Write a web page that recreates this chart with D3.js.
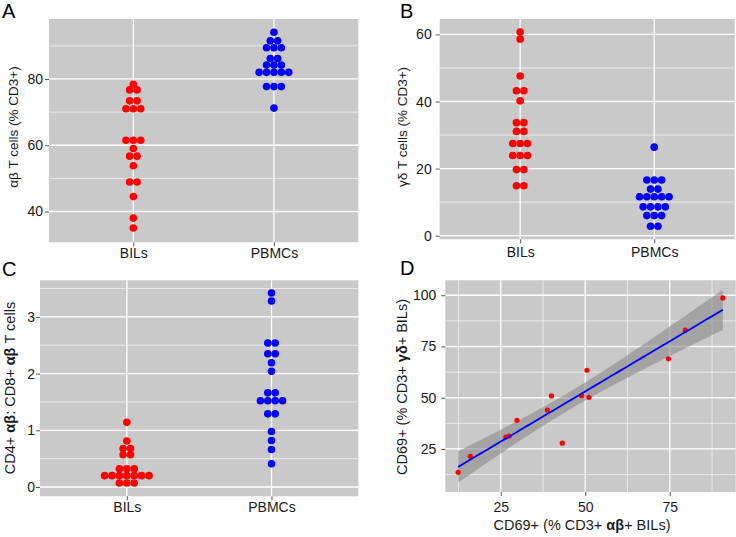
<!DOCTYPE html>
<html><head><meta charset="utf-8">
<script src="https://cdn.jsdelivr.net/npm/d3@7"></script>
<style>body{margin:0;background:#fff} text{font-family:"Liberation Sans",Arial,sans-serif}</style>
</head><body><svg id="c" width="736" height="537"></svg>
<script>
// ---------- data ----------
const categories = ["BILs", "PBMCs"];
// Panel A: αβ T cells (% CD3+), one entry per dot
const abBILs  = [78.4, 76.7, 76.7, 73.4, 73.4, 71.0, 71.0, 71.0, 61.5, 61.5, 61.5, 59.0, 56.7, 56.7, 53.8, 48.9, 48.9, 44.5, 38.0, 35.0];
const abPBMCs = [94.1, 91.5, 91.5, 89.4, 89.4, 89.4, 86.2, 86.2, 84.2, 84.2, 84.2, 82.0, 82.0, 82.0, 82.0, 82.0, 77.7, 77.7, 77.7, 71.2];
const aTicks = [40, 60, 80];
// Panel B: γδ T cells (% CD3+)
const gdBILs  = [60.7, 58.6, 47.6, 43.2, 43.2, 40.2, 33.7, 33.7, 31.1, 31.1, 27.5, 27.5, 27.5, 23.9, 23.9, 23.9, 19.7, 19.7, 14.9, 14.9];
const gdPBMCs = [26.4, 16.6, 16.6, 16.6, 13.9, 13.9, 11.6, 11.6, 11.6, 11.6, 11.6, 8.6, 8.6, 8.6, 8.6, 6.0, 6.0, 6.0, 2.8, 2.8];
const bTicks = [0, 20, 40, 60];
// Panel C: CD4+ αβ : CD8+ αβ ratio
const ratioBILs  = [1.14, 0.81, 0.68, 0.68, 0.57, 0.57, 0.32, 0.32, 0.32, 0.20, 0.20, 0.20, 0.20, 0.20, 0.20, 0.20, 0.07, 0.07, 0.07];
const ratioPBMCs = [3.42, 3.28, 2.54, 2.54, 2.35, 2.35, 2.19, 2.04, 1.66, 1.66, 1.52, 1.52, 1.52, 1.52, 1.29, 1.29, 0.98, 0.82, 0.66, 0.41];
const cTicks = [0, 1, 2, 3];
// Panel D: CD69+ scatter
const cd69ab = [12.4, 16.0, 26.5, 27.5, 29.8, 38.8, 40.0, 43.2, 48.9, 50.5, 51.1, 74.6, 79.6, 90.7];
const cd69gd = [13.6, 21.4, 30.8, 31.3, 39.0, 44.0, 50.9, 27.8, 51.0, 63.4, 50.2, 69.0, 83.0, 98.7];
const dTicks = [25, 50, 75, 100];
const dXTicks = [25, 50, 75];

// ---------- helpers ----------
const svg = d3.select("#c");
const PANEL_BG = "#c9c9c9";
const RED = "#ff0000", BLUE = "#0000ff";

function gridBg(g, x0, x1, y0, y1) {
  g.append("rect").attr("x", x0).attr("y", y0).attr("width", x1 - x0).attr("height", y1 - y0).attr("fill", PANEL_BG);
}
function hLine(g, y, x0, x1, w) {
  g.append("line").attr("x1", x0).attr("x2", x1).attr("y1", y).attr("y2", y).attr("stroke", "#fff").attr("stroke-width", w);
}
function vLine(g, x, y0, y1, w) {
  g.append("line").attr("x1", x).attr("x2", x).attr("y1", y0).attr("y2", y1).attr("stroke", "#fff").attr("stroke-width", w);
}
function styleAxis(ax, fs) {
  ax.select(".domain").remove();
  ax.selectAll(".tick line").attr("stroke", "#555").attr("stroke-width", 1);
  ax.selectAll(".tick text").attr("fill", "#1a1a1a").style("font-size", fs + "px").style("font-family", "Liberation Sans, Arial, sans-serif");
}
function yTitle(cx, cy, segs, fs) {
  const t = svg.append("text").attr("transform", `translate(${cx},${cy}) rotate(-90)`)
    .attr("text-anchor", "middle").attr("dy", "0.35em").style("font-size", fs + "px").attr("fill", "#1a1a1a");
  segs.forEach(s => t.append("tspan").text(s[0]).attr("font-weight", s[1] ? "bold" : "normal"));
}
function letter(txt, x, y) {
  svg.append("text").attr("x", x).attr("y", y).text(txt).style("font-size", "20px").attr("fill", "#000");
}

function dotPanel(cfg) {
  const g = svg.append("g");
  const x = d3.scalePoint().domain(categories).range([cfg.x0, cfg.x1]).padding(0.6);
  const y = d3.scaleLinear().domain(cfg.domain).range([cfg.y1, cfg.y0]);
  gridBg(g, cfg.x0, cfg.x1, cfg.y0, cfg.y1);
  cfg.minor.forEach(v => hLine(g, y(v), cfg.x0, cfg.x1, 0.6));
  cfg.ticks.forEach(v => hLine(g, y(v), cfg.x0, cfg.x1, 1.3));
  categories.forEach(c => vLine(g, x(c), cfg.y0, cfg.y1, 1.3));
  const spacing = 7.4, r = 3.8;
  cfg.series.forEach((vals, i) => {
    const groups = d3.rollups(vals, v => v.length, d => d);
    const pts = [];
    groups.forEach(([v, k]) => { for (let j = 0; j < k; j++) pts.push({v, off: (j - (k - 1) / 2) * spacing}); });
    g.selectAll(null).data(pts).enter().append("circle")
      .attr("cx", d => x(categories[i]) + d.off).attr("cy", d => y(d.v)).attr("r", r)
      .attr("fill", cfg.colors[i]);
  });
  const ay = svg.append("g").attr("transform", `translate(${cfg.x0},0)`)
    .call(d3.axisLeft(y).tickValues(cfg.ticks).tickSize(4).tickPadding(cfg.ypad).tickFormat(d3.format("d")));
  styleAxis(ay, cfg.fs);
  const ax = svg.append("g").attr("transform", `translate(0,${cfg.y1})`)
    .call(d3.axisBottom(x).tickSize(4).tickPadding(cfg.xpad));
  styleAxis(ax, cfg.fs);
}

// Panel A
dotPanel({x0: 49, x1: 358.3, y0: 19, y1: 242.3, domain: [30.7, 98.1], ticks: aTicks, minor: [50, 70, 90],
  series: [abBILs, abPBMCs], colors: [RED, BLUE], ypad: 2, xpad: 2, fs: 14});
yTitle(13, 127, [["αβ T cells (% CD3+)", false]], 13.5);
letter("A", 2, 18);

// Panel B
dotPanel({x0: 439.7, x1: 734.7, y0: 19, y1: 239.3, domain: [-1.07, 64.6], ticks: bTicks, minor: [10, 30, 50],
  series: [gdBILs, gdPBMCs], colors: [RED, BLUE], ypad: 4, xpad: 4, fs: 14});
yTitle(402, 127, [["γδ T cells (% CD3+)", false]], 13.5);
letter("B", 400, 18);

// Panel C
dotPanel({x0: 40, x1: 358.3, y0: 280.3, y1: 496.3, domain: [-0.164, 3.645], ticks: cTicks, minor: [0.5, 1.5, 2.5, 3.5],
  series: [ratioBILs, ratioPBMCs], colors: [RED, BLUE], ypad: 1, xpad: 2, fs: 14});
yTitle(10, 388, [["CD4+ ", false], ["αβ", true], [": CD8+ ", false], ["αβ", true], [" T cells", false]], 14.5);
letter("C", 2, 276);

// Panel D
(function () {
  const x0 = 445.3, x1 = 735.7, y0 = 280.3, y1 = 492;
  const g = svg.append("g");
  const x = d3.scaleLinear().domain([8.6, 94.5]).range([x0, x1]);
  const y = d3.scaleLinear().domain([4.0, 107.3]).range([y1, y0]);
  gridBg(g, x0, x1, y0, y1);
  [12.5, 37.5, 62.5, 87.5].forEach(v => { hLine(g, y(v), x0, x1, 0.6); vLine(g, x(v), y0, y1, 0.6); });
  dTicks.forEach(v => hLine(g, y(v), x0, x1, 1.3));
  dXTicks.forEach(v => vLine(g, x(v), y0, y1, 1.3));
  // linear regression with 95% confidence band
  const n = cd69ab.length;
  const xm = d3.mean(cd69ab), ym = d3.mean(cd69gd);
  let sxx = 0, sxy = 0;
  for (let i = 0; i < n; i++) { sxx += (cd69ab[i] - xm) ** 2; sxy += (cd69ab[i] - xm) * (cd69gd[i] - ym); }
  const b = sxy / sxx, a = ym - b * xm;
  let sse = 0;
  for (let i = 0; i < n; i++) sse += (cd69gd[i] - (a + b * cd69ab[i])) ** 2;
  const s = Math.sqrt(sse / (n - 2));
  const tq = 2.179; // t(0.975, df = 12)
  const [xmin, xmax] = d3.extent(cd69ab);
  const grid = d3.range(0, 81).map(i => xmin + (xmax - xmin) * i / 80);
  const band = grid.map(v => {
    const fit = a + b * v, se = s * Math.sqrt(1 / n + (v - xm) ** 2 / sxx);
    return {x: v, fit, lo: fit - tq * se, hi: fit + tq * se};
  });
  g.append("path").datum(band).attr("fill", "#8a8a8a").attr("fill-opacity", 0.6)
    .attr("d", d3.area().x(d => x(d.x)).y0(d => y(d.lo)).y1(d => y(d.hi)));
  g.selectAll(null).data(cd69ab).enter().append("circle")
    .attr("cx", d => x(d)).attr("cy", (d, i) => y(cd69gd[i])).attr("r", 2.6).attr("fill", RED);
  g.append("path").datum(band).attr("fill", "none").attr("stroke", BLUE).attr("stroke-width", 1.8)
    .attr("d", d3.line().x(d => x(d.x)).y(d => y(d.fit)));
  const ay = svg.append("g").attr("transform", `translate(${x0},0)`)
    .call(d3.axisLeft(y).tickValues(dTicks).tickSize(4).tickPadding(5));
  styleAxis(ay, 14);
  const ax = svg.append("g").attr("transform", `translate(0,${y1})`)
    .call(d3.axisBottom(x).tickValues(dXTicks).tickSize(4).tickPadding(6));
  styleAxis(ax, 14);
  yTitle(401.5, 387, [["CD69+ (% CD3+ ", false], ["γδ", true], ["+ BILs)", false]], 14.5);
  const t = svg.append("text").attr("x", 582).attr("y", 530).attr("text-anchor", "middle").style("font-size", "14.5px").attr("fill", "#1a1a1a");
  [["CD69+ (% CD3+ ", false], ["αβ", true], ["+ BILs)", false]].forEach(sg => t.append("tspan").text(sg[0]).attr("font-weight", sg[1] ? "bold" : "normal"));
  letter("D", 400, 275);
})();
</script></body></html>
